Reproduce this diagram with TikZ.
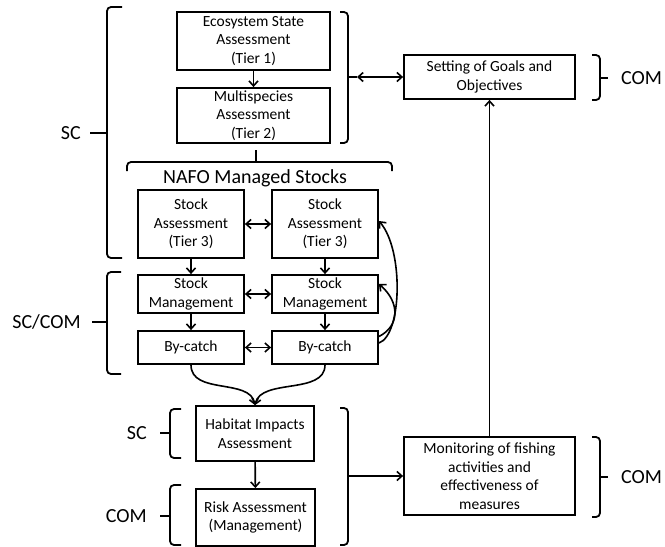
\documentclass[tikz,border=0pt]{standalone}
\usepackage{fontspec}
\setmainfont{Carlito}
\usetikzlibrary{positioning,calc,arrows.meta}

\tikzset{
  box/.style={draw, line width=1.8pt, align=center, inner sep=1pt, font=\fontsize{15.5}{18.6}\selectfont},
  sidelab/.style={font=\fontsize{20}{24}\selectfont, inner sep=0pt},
  brack/.style={line width=1.8pt, rounded corners=4pt},
  link/.style={line width=1.6pt, -{Straight Barb[length=5pt,width=9pt]}},
  dlink/.style={line width=1.6pt, {Straight Barb[length=5pt,width=9pt]}-{Straight Barb[length=5pt,width=9pt]}},
}

\begin{document}
\begin{tikzpicture}[x=1pt, y=-1pt]
    \useasboundingbox (0,0) rectangle (665,547);

    % Tier 1 and 2
    \node [box, minimum width=153pt, minimum height=58pt] (eco) at (253.5,41) {Ecosystem State\\Assessment\\(Tier 1)};
    \node [box, minimum width=153pt, minimum height=55pt] (multi) at (253.5,115.5) {Multispecies\\Assessment\\(Tier 2)};
    \draw [link] (eco) -- (multi);

    % NAFO stocks
    \draw [brack] (127,171) -- (127,162) -- (392,162) -- (392,171);
    \draw [brack] (256,162) -- (256,150);
    \node [sidelab] (nafo) at (255,178) {NAFO Managed Stocks};

    \node [box, minimum width=106pt, minimum height=68pt] (sa1) at (191,224) {Stock\\Assessment\\(Tier 3)};
    \node [box, minimum width=106pt, minimum height=68pt] (sa2) at (325,224) {Stock\\Assessment\\(Tier 3)};
    \node [box, minimum width=106pt, minimum height=38pt] (sm1) at (191,294) {Stock\\Management};
    \node [box, minimum width=106pt, minimum height=38pt] (sm2) at (325,294) {Stock\\Management};
    \node [box, minimum width=106pt, minimum height=33pt] (bc1) at (191,347.5) {By-catch};
    \node [box, minimum width=106pt, minimum height=33pt] (bc2) at (325,347.5) {By-catch};

    \draw [dlink] (sa1) -- (sa2);
    \draw [dlink] (sm1) -- (sm2);
    \draw [dlink] (bc1) -- (bc2);
    \draw [link] (sa1) -- (sm1);
    \draw [link] (sa2) -- (sm2);
    \draw [link] (sm1) -- (bc1);
    \draw [link] (sm2) -- (bc2);

    % feedback from by-catch
    \draw [link] ([yshift=4.5pt]bc2.east) .. controls (402,335) and (404,250) .. ([yshift=3pt]sa2.east);
    \draw [link] ([yshift=11pt]bc2.east) .. controls (400,326) and (400,302) .. ([yshift=10pt]sm2.east);

    % habitat and risk
    \node [box, minimum width=118pt, minimum height=55pt] (hab) at (255,433.5) {Habitat Impacts\\Assessment};
    \node [box, minimum width=119pt, minimum height=57pt] (risk) at (255.5,517.5) {Risk Assessment\\(Management)};
    \draw [link] (bc1.south) .. controls (191,395) and (250,378) .. (hab.north);
    \draw [link] (bc2.south) .. controls (325,395) and (261,378) .. (hab.north);
    \draw [link] (hab) -- (risk);

    % right column
    \node [box, minimum width=171pt, minimum height=44pt] (goals) at (489.5,77) {Setting of Goals and\\Objectives};
    \node [box, minimum width=171pt, minimum height=78pt] (mon) at (489.5,476) {Monitoring of fishing\\activities and\\effectiveness of\\measures};
    \draw [link] (mon) -- (goals);

    \draw [brack] (340,12) -- (348,12) -- (348,143) -- (340,143);
    \coordinate (topTip) at (357,77);
    \draw [brack] (348,77) -- (topTip);
    \draw [dlink] (topTip) -- (goals.west);

    \draw [brack] (340,408) -- (348,408) -- (348,545) -- (340,545);
    \coordinate (botTip) at (352,476);
    \draw [brack] (348,476) -- (botTip);
    \draw [link] (botTip) -- (mon.west);

    % SC / COM brackets
    \draw [brack] (122,7) -- (107,7) -- (107,258) -- (122,258);
    \coordinate (scTip) at (90,133);
    \draw [brack] (107,133) -- (scTip);
    \node [sidelab, left=9pt of scTip] (scLab) {SC};

    \draw [brack] (121,272) -- (107,272) -- (107,374) -- (121,374);
    \coordinate (sccomTip) at (92,322);
    \draw [brack] (107,322) -- (sccomTip);
    \node [sidelab, left=11pt of sccomTip] (sccomLab) {SC/COM};

    \draw [brack] (181,409) -- (170,409) -- (170,458) -- (181,458);
    \coordinate (habTip) at (160,433);
    \draw [brack] (170,433) -- (habTip);
    \node [sidelab, left=13pt of habTip] (habLab) {SC};

    \draw [brack] (181,485) -- (170,485) -- (170,545) -- (181,545);
    \coordinate (riskTip) at (160,516);
    \draw [brack] (170,516) -- (riskTip);
    \node [sidelab, left=13pt of riskTip] (riskLab) {COM};

    \draw [brack] (592,55) -- (600,55) -- (600,100) -- (592,100);
    \coordinate (goalsTip) at (608,78);
    \draw [brack] (600,78) -- (goalsTip);
    \node [sidelab, right=13pt of goalsTip] (goalsLab) {COM};

    \draw [brack] (592,437) -- (600,437) -- (600,517) -- (592,517);
    \coordinate (monTip) at (608,477);
    \draw [brack] (600,477) -- (monTip);
    \node [sidelab, right=13pt of monTip] (monLab) {COM};
\end{tikzpicture}
\end{document}
